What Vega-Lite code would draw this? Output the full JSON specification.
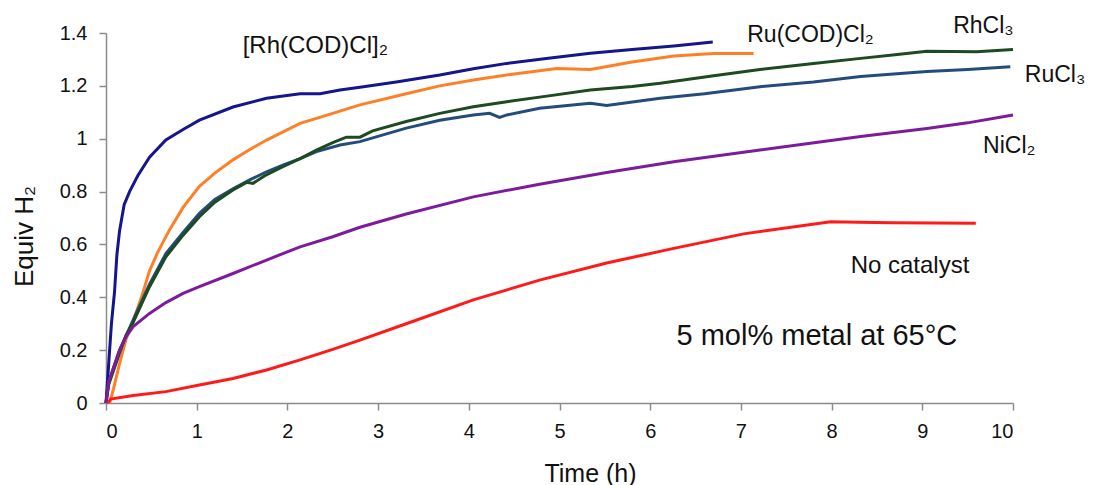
{
  "$schema": "https://vega.github.io/schema/vega-lite/v6.json",
  "width": 907,
  "height": 370,
  "autosize": {"type": "none"},
  "padding": {"left": 106, "top": 33, "right": 81, "bottom": 82},
  "background": "white",
  "config": {"view": {"stroke": null}, "font": "Liberation Sans"},
  "datasets": {
    "curves": [
      {"s": "RhCOD", "t": 0, "v": 0}, {"s": "RhCOD", "t": 0.03, "v": 0.15}, {"s": "RhCOD", "t": 0.06, "v": 0.3}, {"s": "RhCOD", "t": 0.094, "v": 0.42}, {"s": "RhCOD", "t": 0.12, "v": 0.56}, {"s": "RhCOD", "t": 0.149, "v": 0.65}, {"s": "RhCOD", "t": 0.2, "v": 0.75}, {"s": "RhCOD", "t": 0.26, "v": 0.8}, {"s": "RhCOD", "t": 0.35, "v": 0.86}, {"s": "RhCOD", "t": 0.48, "v": 0.93}, {"s": "RhCOD", "t": 0.66, "v": 0.995}, {"s": "RhCOD", "t": 0.85, "v": 1.035}, {"s": "RhCOD", "t": 1.03, "v": 1.07}, {"s": "RhCOD", "t": 1.4, "v": 1.12}, {"s": "RhCOD", "t": 1.77, "v": 1.153}, {"s": "RhCOD", "t": 2.14, "v": 1.17}, {"s": "RhCOD", "t": 2.36, "v": 1.17}, {"s": "RhCOD", "t": 2.58, "v": 1.184}, {"s": "RhCOD", "t": 2.8, "v": 1.195}, {"s": "RhCOD", "t": 3.2, "v": 1.215}, {"s": "RhCOD", "t": 3.68, "v": 1.241}, {"s": "RhCOD", "t": 4.05, "v": 1.265}, {"s": "RhCOD", "t": 4.42, "v": 1.285}, {"s": "RhCOD", "t": 4.9, "v": 1.305}, {"s": "RhCOD", "t": 5.34, "v": 1.323}, {"s": "RhCOD", "t": 5.8, "v": 1.338}, {"s": "RhCOD", "t": 6.26, "v": 1.351}, {"s": "RhCOD", "t": 6.69, "v": 1.366},
      {"s": "RuCOD", "t": 0.04, "v": 0}, {"s": "RuCOD", "t": 0.08, "v": 0.05}, {"s": "RuCOD", "t": 0.15, "v": 0.15}, {"s": "RuCOD", "t": 0.22, "v": 0.24}, {"s": "RuCOD", "t": 0.3, "v": 0.31}, {"s": "RuCOD", "t": 0.4, "v": 0.41}, {"s": "RuCOD", "t": 0.48, "v": 0.5}, {"s": "RuCOD", "t": 0.57, "v": 0.57}, {"s": "RuCOD", "t": 0.7, "v": 0.655}, {"s": "RuCOD", "t": 0.85, "v": 0.74}, {"s": "RuCOD", "t": 1.03, "v": 0.82}, {"s": "RuCOD", "t": 1.2, "v": 0.87}, {"s": "RuCOD", "t": 1.4, "v": 0.92}, {"s": "RuCOD", "t": 1.59, "v": 0.96}, {"s": "RuCOD", "t": 1.77, "v": 0.995}, {"s": "RuCOD", "t": 2.14, "v": 1.058}, {"s": "RuCOD", "t": 2.5, "v": 1.096}, {"s": "RuCOD", "t": 2.8, "v": 1.128}, {"s": "RuCOD", "t": 3.31, "v": 1.17}, {"s": "RuCOD", "t": 3.68, "v": 1.2}, {"s": "RuCOD", "t": 4.05, "v": 1.222}, {"s": "RuCOD", "t": 4.5, "v": 1.245}, {"s": "RuCOD", "t": 4.97, "v": 1.266}, {"s": "RuCOD", "t": 5.34, "v": 1.262}, {"s": "RuCOD", "t": 5.8, "v": 1.29}, {"s": "RuCOD", "t": 6.26, "v": 1.313}, {"s": "RuCOD", "t": 6.7, "v": 1.322}, {"s": "RuCOD", "t": 7.14, "v": 1.322},
      {"s": "RuCl3", "t": 0, "v": 0}, {"s": "RuCl3", "t": 0.03, "v": 0.08}, {"s": "RuCl3", "t": 0.07, "v": 0.12}, {"s": "RuCl3", "t": 0.15, "v": 0.2}, {"s": "RuCl3", "t": 0.3, "v": 0.315}, {"s": "RuCl3", "t": 0.48, "v": 0.45}, {"s": "RuCl3", "t": 0.66, "v": 0.565}, {"s": "RuCl3", "t": 0.85, "v": 0.645}, {"s": "RuCl3", "t": 1.03, "v": 0.718}, {"s": "RuCl3", "t": 1.2, "v": 0.77}, {"s": "RuCl3", "t": 1.4, "v": 0.81}, {"s": "RuCl3", "t": 1.59, "v": 0.845}, {"s": "RuCl3", "t": 1.77, "v": 0.875}, {"s": "RuCl3", "t": 1.95, "v": 0.9}, {"s": "RuCl3", "t": 2.14, "v": 0.925}, {"s": "RuCl3", "t": 2.32, "v": 0.951}, {"s": "RuCl3", "t": 2.58, "v": 0.976}, {"s": "RuCl3", "t": 2.8, "v": 0.989}, {"s": "RuCl3", "t": 3.31, "v": 1.04}, {"s": "RuCl3", "t": 3.68, "v": 1.07}, {"s": "RuCl3", "t": 4.05, "v": 1.09}, {"s": "RuCl3", "t": 4.23, "v": 1.096}, {"s": "RuCl3", "t": 4.34, "v": 1.081}, {"s": "RuCl3", "t": 4.42, "v": 1.09}, {"s": "RuCl3", "t": 4.78, "v": 1.115}, {"s": "RuCl3", "t": 5.34, "v": 1.134}, {"s": "RuCl3", "t": 5.52, "v": 1.126}, {"s": "RuCl3", "t": 6.11, "v": 1.153}, {"s": "RuCl3", "t": 6.6, "v": 1.17}, {"s": "RuCl3", "t": 7.21, "v": 1.197}, {"s": "RuCl3", "t": 7.8, "v": 1.215}, {"s": "RuCl3", "t": 8.32, "v": 1.235}, {"s": "RuCl3", "t": 9.05, "v": 1.254}, {"s": "RuCl3", "t": 9.5, "v": 1.262}, {"s": "RuCl3", "t": 9.97, "v": 1.272},
      {"s": "RhCl3", "t": 0, "v": 0}, {"s": "RhCl3", "t": 0.03, "v": 0.07}, {"s": "RhCl3", "t": 0.07, "v": 0.11}, {"s": "RhCl3", "t": 0.15, "v": 0.19}, {"s": "RhCl3", "t": 0.22, "v": 0.255}, {"s": "RhCl3", "t": 0.3, "v": 0.305}, {"s": "RhCl3", "t": 0.48, "v": 0.44}, {"s": "RhCl3", "t": 0.66, "v": 0.553}, {"s": "RhCl3", "t": 0.85, "v": 0.635}, {"s": "RhCl3", "t": 1.03, "v": 0.705}, {"s": "RhCl3", "t": 1.2, "v": 0.76}, {"s": "RhCl3", "t": 1.4, "v": 0.806}, {"s": "RhCl3", "t": 1.55, "v": 0.835}, {"s": "RhCl3", "t": 1.62, "v": 0.831}, {"s": "RhCl3", "t": 1.75, "v": 0.86}, {"s": "RhCl3", "t": 1.95, "v": 0.894}, {"s": "RhCl3", "t": 2.14, "v": 0.925}, {"s": "RhCl3", "t": 2.32, "v": 0.957}, {"s": "RhCl3", "t": 2.5, "v": 0.985}, {"s": "RhCl3", "t": 2.65, "v": 1.006}, {"s": "RhCl3", "t": 2.8, "v": 1.006}, {"s": "RhCl3", "t": 2.94, "v": 1.03}, {"s": "RhCl3", "t": 3.31, "v": 1.065}, {"s": "RhCl3", "t": 3.68, "v": 1.096}, {"s": "RhCl3", "t": 4.05, "v": 1.121}, {"s": "RhCl3", "t": 4.42, "v": 1.14}, {"s": "RhCl3", "t": 4.9, "v": 1.163}, {"s": "RhCl3", "t": 5.34, "v": 1.184}, {"s": "RhCl3", "t": 5.8, "v": 1.198}, {"s": "RhCl3", "t": 6.11, "v": 1.21}, {"s": "RhCl3", "t": 6.7, "v": 1.238}, {"s": "RhCl3", "t": 7.21, "v": 1.262}, {"s": "RhCl3", "t": 7.8, "v": 1.285}, {"s": "RhCl3", "t": 8.32, "v": 1.304}, {"s": "RhCl3", "t": 8.7, "v": 1.318}, {"s": "RhCl3", "t": 9.05, "v": 1.331}, {"s": "RhCl3", "t": 9.6, "v": 1.329}, {"s": "RhCl3", "t": 10.0, "v": 1.338},
      {"s": "NiCl2", "t": 0, "v": 0}, {"s": "NiCl2", "t": 0.03, "v": 0.08}, {"s": "NiCl2", "t": 0.07, "v": 0.12}, {"s": "NiCl2", "t": 0.15, "v": 0.2}, {"s": "NiCl2", "t": 0.22, "v": 0.25}, {"s": "NiCl2", "t": 0.3, "v": 0.289}, {"s": "NiCl2", "t": 0.48, "v": 0.339}, {"s": "NiCl2", "t": 0.66, "v": 0.38}, {"s": "NiCl2", "t": 0.85, "v": 0.415}, {"s": "NiCl2", "t": 1.03, "v": 0.44}, {"s": "NiCl2", "t": 1.4, "v": 0.49}, {"s": "NiCl2", "t": 1.77, "v": 0.541}, {"s": "NiCl2", "t": 2.14, "v": 0.591}, {"s": "NiCl2", "t": 2.5, "v": 0.629}, {"s": "NiCl2", "t": 2.8, "v": 0.665}, {"s": "NiCl2", "t": 3.31, "v": 0.715}, {"s": "NiCl2", "t": 4.05, "v": 0.78}, {"s": "NiCl2", "t": 4.78, "v": 0.828}, {"s": "NiCl2", "t": 5.52, "v": 0.872}, {"s": "NiCl2", "t": 6.26, "v": 0.913}, {"s": "NiCl2", "t": 7.21, "v": 0.957}, {"s": "NiCl2", "t": 8.32, "v": 1.008}, {"s": "NiCl2", "t": 9.05, "v": 1.039}, {"s": "NiCl2", "t": 9.5, "v": 1.06}, {"s": "NiCl2", "t": 10.0, "v": 1.09},
      {"s": "None", "t": 0.02, "v": 0}, {"s": "None", "t": 0.05, "v": 0.015}, {"s": "None", "t": 0.3, "v": 0.028}, {"s": "None", "t": 0.66, "v": 0.043}, {"s": "None", "t": 1.03, "v": 0.068}, {"s": "None", "t": 1.4, "v": 0.093}, {"s": "None", "t": 1.77, "v": 0.125}, {"s": "None", "t": 2.14, "v": 0.163}, {"s": "None", "t": 2.5, "v": 0.203}, {"s": "None", "t": 2.8, "v": 0.238}, {"s": "None", "t": 3.31, "v": 0.3}, {"s": "None", "t": 4.05, "v": 0.39}, {"s": "None", "t": 4.78, "v": 0.465}, {"s": "None", "t": 5.52, "v": 0.53}, {"s": "None", "t": 6.26, "v": 0.585}, {"s": "None", "t": 7.03, "v": 0.64}, {"s": "None", "t": 7.99, "v": 0.686}, {"s": "None", "t": 8.3, "v": 0.684}, {"s": "None", "t": 8.68, "v": 0.682}, {"s": "None", "t": 9.59, "v": 0.68}
    ],
    "labels": [
      {"label": "[Rh(COD)Cl]₂", "t": 1.507, "v": 1.324, "size": 24},
      {"label": "Ru(COD)Cl₂", "t": 7.07, "v": 1.366, "size": 23},
      {"label": "RhCl₃", "t": 9.34, "v": 1.4, "size": 23},
      {"label": "RuCl₃", "t": 10.13, "v": 1.215, "size": 23},
      {"label": "NiCl₂", "t": 9.67, "v": 0.946, "size": 23},
      {"label": "No catalyst", "t": 8.21, "v": 0.492, "size": 24},
      {"label": "5 mol% metal at 65°C", "t": 6.29, "v": 0.219, "size": 29}
    ]
  },
  "layer": [
    {
      "data": {"name": "curves"},
      "mark": {"type": "line", "strokeWidth": 3, "clip": false},
      "encoding": {
        "x": {
          "field": "t", "type": "quantitative",
          "scale": {"domain": [0, 10], "nice": false, "zero": false},
          "axis": {
            "title": "Time (h)", "values": [0, 1, 2, 3, 4, 5, 6, 7, 8, 9, 10], "format": "d",
            "grid": false, "domainColor": "#8c8c8c", "domainWidth": 1.5, "tickColor": "#8c8c8c", "tickWidth": 1.5, "tickSize": 7,
            "labelFont": "Liberation Sans", "labelFontSize": 20, "labelColor": "#111111", "labelPadding": 11,
            "titleFont": "Liberation Sans", "titleFontSize": 25, "titleFontWeight": "normal", "titleColor": "#111111",
            "titleX": 484, "titleY": 70, "titleBaseline": "middle", "titleAlign": "center"
          }
        },
        "y": {
          "field": "v", "type": "quantitative",
          "scale": {"domain": [0, 1.4], "nice": false},
          "axis": {
            "title": "Equiv H₂", "values": [0, 0.2, 0.4, 0.6, 0.8, 1, 1.2, 1.4], "labelExpr": "datum.value == 0 || datum.value == 1 ? format(datum.value, 'd') : format(datum.value, '.1f')",
            "grid": false, "domainColor": "#8c8c8c", "domainWidth": 1.5, "tickColor": "#8c8c8c", "tickWidth": 1.5, "tickSize": 7,
            "labelFont": "Liberation Sans", "labelFontSize": 20, "labelColor": "#111111", "labelPadding": 12,
            "titleFont": "Liberation Sans", "titleFontSize": 26, "titleFontWeight": "normal", "titleColor": "#111111",
            "titleX": -82, "titleY": 203, "titleBaseline": "middle", "titleAlign": "center", "titleAngle": -90
          }
        },
        "color": {
          "field": "s", "type": "nominal", "legend": null,
          "scale": {
            "domain": ["None", "NiCl2", "RuCl3", "RhCl3", "RuCOD", "RhCOD"],
            "range": ["#ff1a1a", "#7d1c9b", "#234c7d", "#1d4a20", "#ff7f27", "#16168c"]
          }
        },
        "order": {"field": "t", "type": "quantitative"}
      }
    },
    {
      "data": {"name": "labels"},
      "mark": {"type": "text", "align": "left", "baseline": "alphabetic", "font": "Liberation Sans", "color": "#111111", "clip": false},
      "encoding": {
        "x": {"field": "t", "type": "quantitative"},
        "y": {"field": "v", "type": "quantitative"},
        "text": {"field": "label", "type": "nominal"},
        "size": {"field": "size", "type": "quantitative", "scale": null, "legend": null}
      }
    }
  ]
}
